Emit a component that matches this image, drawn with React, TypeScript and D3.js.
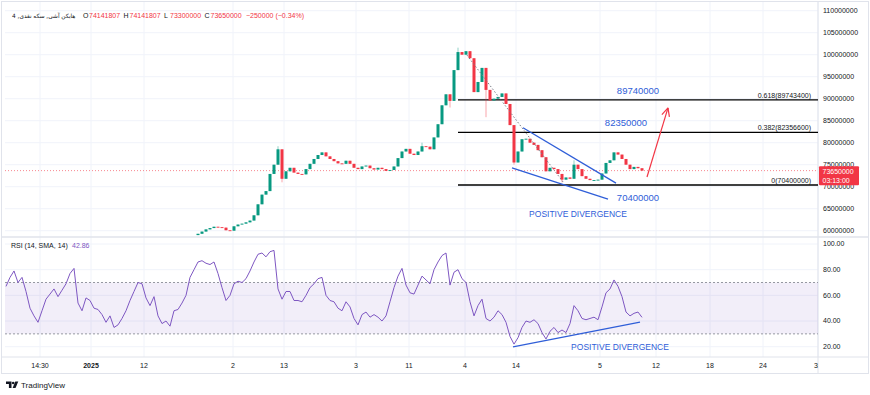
import React from 'react'
import * as d3 from 'd3'

const W = 870
const H = 395

// header texts
const symbolTitle = 'هایکن آشی, سکه نقدی, 4'
const ohlcLabels = ['O', 'H', 'L', 'C']
const ohlcValues = ['74141807', '74141807', '73300000', '73650000']
const changeText = '−250000 (−0.34%)'

// heikin ashi closes in millions, candle index starts at firstCandle
const firstCandle = 48
const firstOpen = 59.0
const closes = [
  59.3, 59.8, 60.3, 60.6, 60.9, 60.8, 60.7, 60.1, 60.0, 61.0,
  61.4, 61.6, 61.9, 62.3, 63.5, 66.0, 68.2, 69.0, 72.9, 75.0,
  78.5, 71.8, 73.5, 74.3, 73.2, 72.9, 72.8, 74.0, 75.2, 76.3,
  77.2, 77.8, 76.9, 76.3, 75.8, 75.3, 75.2, 75.9, 75.2, 74.3,
  74.0, 74.6, 74.8, 74.2, 73.9, 74.3, 74.0, 73.6, 73.8, 74.6,
  76.5, 78.0, 78.6, 77.5, 77.2, 78.0, 79.2, 79.1, 78.5, 81.2,
  84.2, 88.5, 91.0, 89.5, 96.5, 100.6, 100.0, 100.8, 99.2, 91.5,
  93.8, 97.0, 92.0, 89.6, 90.0, 90.4, 91.2, 88.8, 84.0, 75.5,
  78.0, 80.8, 80.9, 80.0, 79.5, 78.3, 76.7, 73.5, 74.3, 74.0,
  72.9, 71.6, 72.1, 71.8, 75.0, 74.0, 72.4, 71.8, 71.5, 71.5,
  71.6, 73.0, 75.4, 76.0, 77.8, 77.3, 76.3, 75.0, 74.0, 74.5, 74.2, 73.65
]
// [candle index, price] for visible wicks
const lowSpikes = [[69, 71.0], [111, 88.0], [120, 85.8], [127, 75.0], [139, 71.0]]
const highSpikes = [[68, 79.2], [113, 101.6], [104, 80.0], [142, 76.0]]
const lastPrice = 73.65

const rsi = [
  67, 74, 79, 70, 74, 63, 50, 44, 39, 48,
  57, 61, 65, 59, 64, 69, 77, 81, 54, 48,
  58, 56, 50, 49, 45, 39, 44, 35, 37, 42,
  48, 56, 63, 70, 69, 58, 52, 59, 44, 38,
  40, 36, 48, 49, 54, 60, 74, 80, 86, 87,
  85, 84, 86, 77, 66, 56, 60, 69, 71, 70,
  73, 79, 86, 92, 93, 90, 94, 95, 65, 57,
  63, 63, 56, 56, 55, 60, 66, 69, 73, 74,
  60, 56, 55, 50, 48, 55, 51, 42, 37, 45,
  47, 43, 45, 43, 40, 44, 55, 66, 75, 81,
  68, 62, 61, 68, 75, 72, 69, 80, 86, 91,
  93, 68, 78, 80, 73, 70, 55, 44, 52, 57,
  42, 40, 43, 48, 45, 39, 28, 22, 27, 35,
  40, 39, 41, 38, 31, 26, 32, 35, 31, 33,
  31, 38, 52, 48, 42, 41, 42, 43, 41, 51,
  62, 65, 72, 67, 59, 47, 44, 46, 47, 42.86
]
const rsiLast = '42.86'
const rsiTicks = [20, 40, 60, 80, 100]

const timeLabels = ['14:30', '2025', '12', '2', '13', '3', '11', '4', '14', '5', '12', '18', '24', '30']
const timeIdx = [8.5, 21.25, 34.5, 56.75, 69.5, 87.5, 100.75, 114.75, 127.5, 148.5, 162.5, 176, 189.25, 203]

// fibonacci retracement
const fibRatios = ['0.618', '0.382', '0']
const fibValues = [89.7434, 82.3566, 70.4]
const fibStartIdx = 113

// blue target labels
const targetTexts = ['89740000', '82350000', '70400000']
const targetIdx = [158, 155, 158]
const targetLevels = [91.75, 84.6, 67.6]

// drawn lines [idx1, price1, idx2, price2]
const wedgeUpper = [129.25, 83.4, 152.5, 70.8]
const wedgeLower = [126.5, 74.3, 150.5, 67.2]
const dottedTrend = [115.25, 99.9, 139.25, 71.1]
const arrowLine = [160.25, 72.2, 165.5, 87.9]
const rsiDivergence = [126.75, 19.8, 158.5, 39.2]

const UP = '#089981'
const DOWN = '#f23645'
const BLUE = '#2f5ed8'
const GRID = '#f0f3fa'
const TXT = '#131722'
const FONT = 'Liberation Sans, Arial, sans-serif'

const PLOT_L = 5
const PLOT_R = 818
const PRICE_TOP = 2
const PRICE_BOT = 237
const RSI_TOP = 237
const RSI_BOT = 357

const App = () => {
  const x = d3.scaleLinear().domain([0, 203]).range([6, 818])
  const y = d3.scaleLinear().domain([60, 110]).range([230.7, 10.7])
  const ry = d3.scaleLinear().domain([20, 100]).range([346.7, 244])
  const fmt = d3.format('d')
  const priceTicks = y.ticks(10)

  const candles = closes.map((c, k) => {
    const i = firstCandle + k
    const o = k === 0 ? firstOpen : closes[k - 1]
    let hi = Math.max(o, c)
    let lo = Math.min(o, c)
    lowSpikes.forEach(s => { if (s[0] === i) lo = Math.min(lo, s[1]) })
    highSpikes.forEach(s => { if (s[0] === i) hi = Math.max(hi, s[1]) })
    return { i, o, c, hi, lo }
  })

  const rsiLine = d3.line<number>().x((d, i) => x(i)).y(d => ry(d))

  const seg = (s: number[], scaleY: any) => ({
    x1: x(s[0]), y1: scaleY(s[1]), x2: x(s[2]), y2: scaleY(s[3])
  })

  // arrow head
  const ar = seg(arrowLine, y)
  const ang = Math.atan2(ar.y2 - ar.y1, ar.x2 - ar.x1)
  const head = [ang + Math.PI - 0.45, ang + Math.PI + 0.45].map(a => [ar.x2 + 9 * Math.cos(a), ar.y2 + 9 * Math.sin(a)])

  let hx = 83
  const headerParts: any[] = []
  ohlcLabels.forEach((l, k) => {
    headerParts.push({ t: l, c: TXT, x: hx })
    hx += 6
    headerParts.push({ t: ohlcValues[k], c: DOWN, x: hx })
    hx += 31.5 + 3
  })
  headerParts.push({ t: changeText, c: DOWN, x: hx + 1 })

  return (
    <svg width={W} height={H} style={{ position: 'absolute', left: 0, top: 0, background: '#fff' }} fontFamily={FONT}>
      <defs>
        <clipPath id="pricePane"><rect x={PLOT_L} y={PRICE_TOP} width={PLOT_R - PLOT_L} height={PRICE_BOT - PRICE_TOP} /></clipPath>
        <clipPath id="rsiPane"><rect x={PLOT_L} y={RSI_TOP} width={PLOT_R - PLOT_L} height={RSI_BOT - RSI_TOP} /></clipPath>
        <clipPath id="timeAxis"><rect x={PLOT_L} y={RSI_BOT} width={PLOT_R - PLOT_L} height={20} /></clipPath>
      </defs>

      {/* grid */}
      {timeIdx.map((t, k) => (
        <line key={'vg' + k} x1={x(t)} x2={x(t)} y1={PRICE_TOP} y2={RSI_BOT} stroke={GRID} />
      ))}
      {priceTicks.map(t => (
        <line key={'pg' + t} x1={PLOT_L} x2={PLOT_R} y1={y(t)} y2={y(t)} stroke={GRID} />
      ))}
      {rsiTicks.map(t => (
        <line key={'rg' + t} x1={PLOT_L} x2={PLOT_R} y1={ry(t)} y2={ry(t)} stroke={GRID} />
      ))}

      {/* frame */}
      <rect x={1.5} y={1.5} width={867} height={372} fill="none" stroke="#e0e3eb" />
      <line x1={PLOT_R} x2={PLOT_R} y1={1.5} y2={373.5} stroke="#e0e3eb" />
      <line x1={1.5} x2={868.5} y1={PRICE_BOT} y2={PRICE_BOT} stroke="#e0e3eb" strokeWidth={1.5} />
      <line x1={1.5} x2={868.5} y1={RSI_BOT} y2={RSI_BOT} stroke="#e0e3eb" />

      {/* price pane */}
      <g clipPath="url(#pricePane)">
        <line x1={PLOT_L} x2={PLOT_R} y1={y(lastPrice)} y2={y(lastPrice)} stroke={DOWN} strokeOpacity={0.6} strokeDasharray="1,2" />
        {fibValues.map((v, k) => (
          <line key={'fib' + k} x1={x(fibStartIdx)} x2={PLOT_R} y1={y(v)} y2={y(v)} stroke="#000" strokeWidth={1.4} />
        ))}
        {candles.map(d => {
          const col = d.c >= d.o ? UP : DOWN
          const top = y(Math.max(d.o, d.c))
          const h = Math.max(0.9, y(Math.min(d.o, d.c)) - top)
          return (
            <g key={'c' + d.i}>
              <line x1={x(d.i)} x2={x(d.i)} y1={y(d.hi)} y2={y(d.lo)} stroke={col} strokeOpacity={0.45} />
              <rect x={x(d.i) - 1.5} y={top} width={3} height={h} fill={col} />
            </g>
          )
        })}
        <line {...seg(dottedTrend, y)} stroke="#787b86" strokeWidth={1} strokeDasharray="1.5,2" />
        <line {...seg(wedgeUpper, y)} stroke={BLUE} strokeWidth={1.3} />
        <line {...seg(wedgeLower, y)} stroke={BLUE} strokeWidth={1.3} />
        <line {...ar} stroke={DOWN} strokeWidth={1.2} />
        {head.map((p, k) => (
          <line key={'ah' + k} x1={ar.x2} y1={ar.y2} x2={p[0]} y2={p[1]} stroke={DOWN} strokeWidth={1.2} />
        ))}
        {fibValues.map((v, k) => (
          <text key={'fl' + k} x={811} y={y(v) - 2} fontSize={7} textAnchor="end" fill={TXT}>
            {fibRatios[k] + '(' + fmt(Math.round(v * 1e6)) + ')'}
          </text>
        ))}
        {targetTexts.map((t, k) => (
          <text key={'tg' + k} x={x(targetIdx[k])} y={y(targetLevels[k])} fontSize={9.5} textAnchor="middle" dy="0.35em" fill={BLUE}>{t}</text>
        ))}
        <text x={578} y={214} dy="0.35em" fontSize={8.5} textAnchor="middle" fill={BLUE}>POSITIVE DIVERGENCE</text>
      </g>

      {/* rsi pane */}
      <g clipPath="url(#rsiPane)">
        <rect x={PLOT_L} y={ry(70)} width={PLOT_R - PLOT_L} height={ry(30) - ry(70)} fill="#7e57c2" fillOpacity={0.1} />
        <line x1={PLOT_L} x2={PLOT_R} y1={ry(70)} y2={ry(70)} stroke="#9598a1" strokeDasharray="2,2" />
        <line x1={PLOT_L} x2={PLOT_R} y1={ry(30)} y2={ry(30)} stroke="#9598a1" strokeDasharray="2,2" />
        <path d={rsiLine(rsi) || ''} fill="none" stroke="#7e57c2" strokeWidth={1} />
        <line {...seg(rsiDivergence, ry)} stroke={BLUE} strokeWidth={1.3} />
        <text x={620} y={347} dy="0.35em" fontSize={8.5} textAnchor="middle" fill={BLUE}>POSITIVE DIVERGENCE</text>
      </g>

      {/* header */}
      <text x={12} y={17.5} fontSize={5.8} textAnchor="start" fill={TXT} fontFamily="DejaVu Sans, sans-serif">{'\u202B' + symbolTitle + '\u202C'}</text>
      {headerParts.map((p, k) => (
        <text key={'hp' + k} x={p.x} y={17.5} fontSize={7} fill={p.c}>{p.t}</text>
      ))}
      <text x={11} y={247.5} fontSize={7} fill={TXT}>RSI (14, SMA, 14)</text>
      <text x={72} y={247.5} fontSize={7} fill="#7e57c2">{rsiLast}</text>

      {/* right axis */}
      {priceTicks.map(t => (
        <text key={'pt' + t} x={823} y={y(t)} dy="0.35em" fontSize={7} fill={TXT}>{fmt(t * 1e6)}</text>
      ))}
      {rsiTicks.map(t => (
        <text key={'rt' + t} x={823} y={ry(t)} dy="0.35em" fontSize={7} fill={TXT}>{t.toFixed(2)}</text>
      ))}
      <rect x={819} y={y(lastPrice) - 4.5} width={40} height={19} fill={DOWN} rx={1} />
      <text x={822.5} y={y(lastPrice) + 0.5} dy="0.35em" fontSize={7} fill="#fff">{fmt(Math.round(lastPrice * 1e6))}</text>
      <text x={822.5} y={y(lastPrice) + 9.5} dy="0.35em" fontSize={7} fill="#fff">03:13:00</text>

      {/* time axis */}
      <g clipPath="url(#timeAxis)">
        {timeLabels.map((t, k) => (
          <text key={'tl' + k} x={x(timeIdx[k])} y={366} dy="0.35em" fontSize={7} textAnchor="middle" fill={TXT} fontWeight={t === '2025' ? 'bold' : 'normal'}>{t}</text>
        ))}
      </g>

      {/* logo */}
      <g fill="#131722">
        <path d="M6,381.5 h5.5 v6.5 h-2.6 v-4 h-2.9 z" />
        <circle cx={13.2} cy={383} r={1.3} />
        <path d="M15.3,381.5 h3 l-2.8,6.5 h-2.9 z" />
      </g>
      <text x={21} y={387.5} fontSize={8} fill={TXT}>TradingView</text>
    </svg>
  )
}

export default App
